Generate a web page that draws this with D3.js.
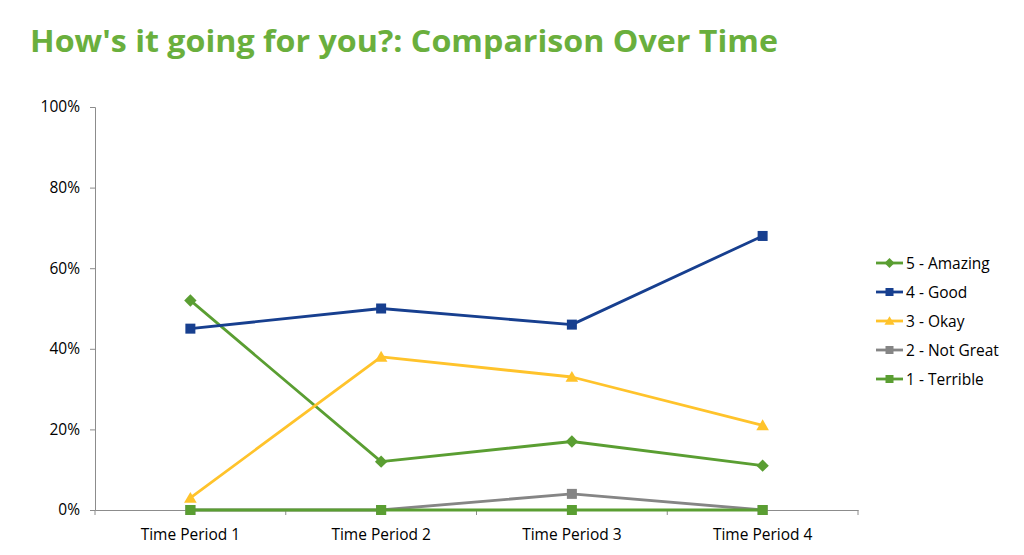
<!DOCTYPE html>
<html><head><meta charset="utf-8">
<script src="https://cdn.jsdelivr.net/npm/d3@7"></script>
<style>body{margin:0;background:#fff}svg{display:block}</style>
</head><body>
<script>
const categories = ["Time Period 1","Time Period 2","Time Period 3","Time Period 4"];
const seriesNames = ["5 - Amazing","4 - Good","3 - Okay","2 - Not Great","1 - Terrible"];
const amazing  = [52, 12, 17, 11];
const good     = [45, 50, 46, 68];
const okay     = [3, 38, 33, 21];
const notGreat = [0, 0, 4, 0];
const terrible = [0, 0, 0, 0];
const yTicks = [0, 20, 40, 60, 80, 100];
const titleText = "How's it going for you?: Comparison Over Time";

const colors = ["#5A9E32", "#173F8F", "#FFC32B", "#858585", "#5A9E32"];
const shapes = ["diamond", "square", "triangle", "square", "square"];
const values = [amazing, good, okay, notGreat, terrible];

const W = 1024, H = 555;
const svg = d3.select("body").append("svg").attr("width", W).attr("height", H);
const font = "'Open Sans', 'Noto Sans', sans-serif";
const fs = 15.5;

// Title
const title = svg.append("text").attr("x", 30).attr("y", 52)
  .attr("font-family", font).attr("font-weight", "bold").attr("font-size", 31)
  .attr("fill", "#6AAF3D").text(titleText);
title.attr("textLength", 748).attr("lengthAdjust", "spacingAndGlyphs");

const x = d3.scaleBand().domain(categories).range([95, 858]);
const y = d3.scaleLinear().domain([0, 100]).range([510, 107]);

// Axes
const yAxis = svg.append("g").attr("transform", "translate(95,0)")
  .call(d3.axisLeft(y).tickValues(yTicks).tickFormat(d => d + "%").tickSizeOuter(0).tickSize(5));
yAxis.select(".domain").attr("stroke", "#8C8C8C");
yAxis.selectAll(".tick line").attr("stroke", "#8C8C8C");
yAxis.selectAll("text").attr("font-family", font).attr("font-size", fs).attr("fill", "#000").attr("x", -15);

const xAxis = svg.append("g").attr("transform", "translate(0,510)")
  .call(d3.axisBottom(x).tickSize(0).tickSizeOuter(0));
xAxis.select(".domain").attr("stroke", "#8C8C8C");
xAxis.selectAll("text").attr("font-family", font).attr("font-size", fs).attr("fill", "#000").attr("y", 19);
// boundary ticks
const bounds = categories.map(c => x(c)).concat([x.range()[1]]);
svg.append("g").selectAll("line").data(bounds).join("line")
  .attr("x1", d => d).attr("x2", d => d).attr("y1", 510).attr("y2", 515)
  .attr("stroke", "#8C8C8C");

function marker(sel, shape, color, size) {
  if (shape === "diamond") {
    const s = size * 0.62;
    sel.append("path").attr("d", `M0,${-s}L${s},0L0,${s}L${-s},0Z`).attr("fill", color);
  } else if (shape === "square") {
    const s = size / 2;
    sel.append("rect").attr("x", -s).attr("y", -s).attr("width", size).attr("height", size).attr("fill", color);
  } else {
    const s = size * 0.6;
    sel.append("path").attr("d", `M0,${-s}L${s*1.05},${s*0.8}L${-s*1.05},${s*0.8}Z`).attr("fill", color);
  }
}

const line = d3.line().x((d, i) => x(categories[i]) + x.bandwidth() / 2).y(d => y(d));
values.forEach((vals, k) => {
  const g = svg.append("g");
  g.append("path").attr("d", line(vals)).attr("fill", "none")
    .attr("stroke", colors[k]).attr("stroke-width", 2.8).attr("stroke-linejoin", "round");
  vals.forEach((v, i) => {
    const m = g.append("g").attr("transform", `translate(${x(categories[i]) + x.bandwidth() / 2},${y(v)})`);
    marker(m, shapes[k], colors[k], 10);
  });
});

// Legend
const leg = svg.append("g");
seriesNames.forEach((name, k) => {
  const yy = 263 + k * 29;
  leg.append("line").attr("x1", 876).attr("x2", 903).attr("y1", yy).attr("y2", yy)
    .attr("stroke", colors[k]).attr("stroke-width", 2.8);
  const m = leg.append("g").attr("transform", `translate(889.5,${yy})`);
  marker(m, shapes[k], colors[k], 8);
  leg.append("text").attr("x", 906).attr("y", yy + 5.5).attr("font-family", font)
    .attr("font-size", fs).attr("fill", "#000").text(name);
});
</script>
</body></html>
